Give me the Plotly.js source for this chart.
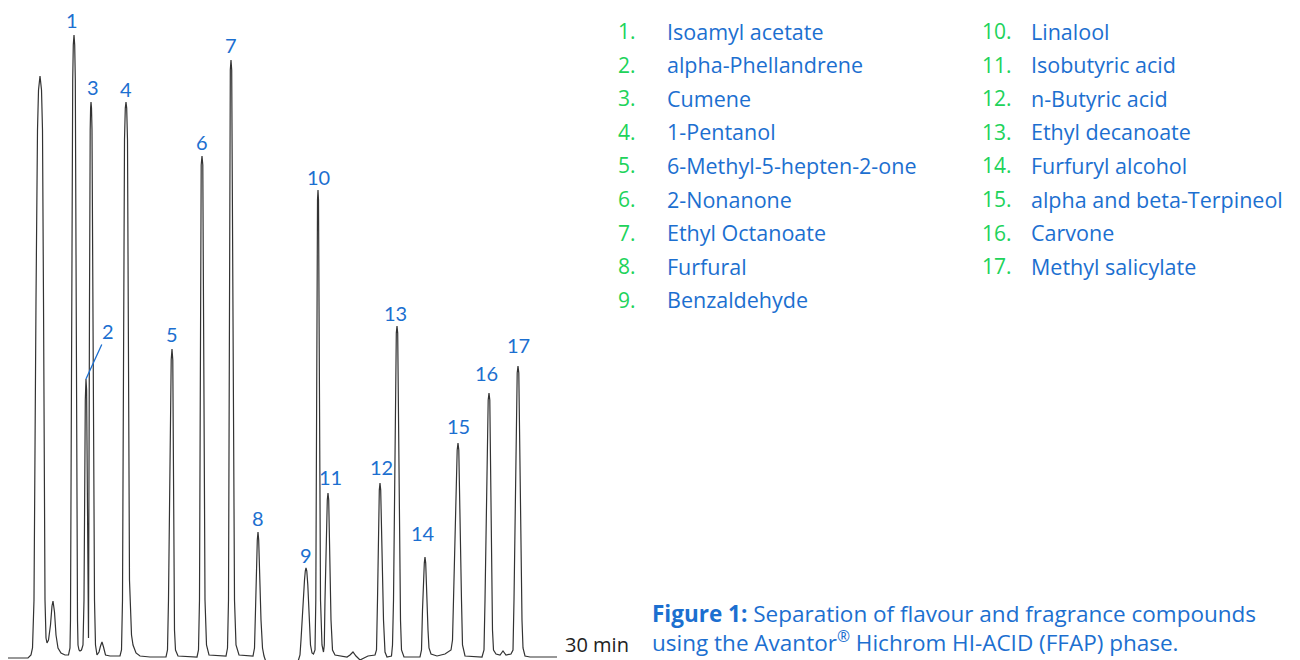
<!DOCTYPE html>
<html>
<head>
<meta charset="utf-8">
<script src="https://cdn.plot.ly/plotly-3.0.1.min.js"></script>
<style>html,body{margin:0;padding:0;background:#fff;}#chart{width:1300px;height:660px;}</style>
</head>
<body>
<div id="chart"></div>
<script>
// ---- Data ----
const traceTime = [0,1.093,1.257,1.339,1.421,1.530,1.612,1.667,1.749,1.831,1.885,1.940,2.022,2.077,2.131,2.213,2.322,2.404,2.459,2.541,2.623,2.732,2.896,3.115,3.306,3.388,3.415,3.536,3.568,3.607,3.645,3.678,3.798,3.825,3.880,3.934,4.016,4.098,4.153,4.224,4.262,4.295,4.399,4.454,4.492,4.514,4.536,4.563,4.590,4.727,4.781,4.863,4.973,5.055,5.137,5.219,5.328,5.574,6.120,6.202,6.257,6.366,6.410,6.448,6.486,6.530,6.639,6.749,6.831,6.995,7.213,7.760,8.634,8.716,8.770,8.918,8.962,9.005,9.098,9.153,9.290,10.328,10.410,10.464,10.557,10.601,10.645,10.765,10.847,10.984,11.913,11.995,12.049,12.148,12.186,12.224,12.377,12.459,12.623,13.388,13.470,13.525,13.623,13.661,13.699,13.825,13.907,13.989,14.098,14.317,15.410,15.738,15.874,15.956,16.011,16.202,16.246,16.284,16.328,16.383,16.530,16.612,16.694,16.776,16.820,16.913,16.940,16.967,17.077,17.158,17.240,17.284,17.322,17.448,17.486,17.525,17.650,17.732,17.869,18.525,18.689,18.852,19.016,19.235,19.454,19.672,20.055,20.137,20.191,20.290,20.328,20.366,20.519,20.601,20.710,20.956,21.011,21.066,21.219,21.257,21.295,21.448,21.503,21.639,22.514,22.596,22.650,22.749,22.787,22.825,22.951,23.005,23.115,23.443,23.880,24.208,24.290,24.344,24.546,24.590,24.634,24.781,24.836,24.973,25.902,26.011,26.066,26.240,26.284,26.328,26.475,26.530,26.667,26.885,27.049,27.213,27.486,27.596,27.650,27.825,27.869,27.913,28.087,28.142,28.251,28.525,30.000];
const traceSignal = [0,0,3,10,58,358,528,568,582,568,528,358,58,20,15,18,33,52,57,46,23,10,5,3,3,10,38,578,613,623,613,578,38,13,8,7,8,13,58,258,279,268,20,358,528,550,556,550,528,58,13,3,6,12,16,11,3,2,2,8,58,518,550,556,550,518,78,23,13,5,2,1,1,8,58,298,309,298,28,8,2,1,8,58,493,502,493,58,13,3,2,10,58,588,598,588,58,13,3,2,10,48,118,126,118,38,10,2,-4,-22,-32,-17,-2,3,18,78,87,90,87,73,13,5,4,8,58,458,468,458,58,13,6,13,58,158,165,158,38,8,3,1,3,6,2,-2,0,2,3,8,58,168,175,168,38,6,1,2,13,58,325,332,325,38,8,1,1,8,48,95,101,95,28,10,4,2,4,8,18,58,208,215,208,58,13,2,1,8,58,258,265,258,28,8,4,3,7,3,4,8,58,285,292,285,38,10,2,1,1];

const peakNumbers = [1,2,3,4,5,6,7,8,9,10,11,12,13,14,15,16,17];
const peakTimes   = [3.61,4.26,4.54,6.45,8.96,10.60,12.19,13.66,16.28,16.94,17.49,20.33,21.26,22.79,24.59,26.28,27.87];
const peakHeights = [623,279,556,556,309,502,598,126,90,468,165,175,332,101,215,265,292];

const compoundNames = [
  "Isoamyl acetate","alpha-Phellandrene","Cumene","1-Pentanol","6-Methyl-5-hepten-2-one",
  "2-Nonanone","Ethyl Octanoate","Furfural","Benzaldehyde","Linalool","Isobutyric acid",
  "n-Butyric acid","Ethyl decanoate","Furfuryl alcohol","alpha and beta-Terpineol","Carvone",
  "Methyl salicylate"
];

const runEndLabel = "30 min";
const captionBold = "Figure 1:";
const captionLine1 = " Separation of flavour and fragrance compounds";
const captionLine2 = "using the Avantor<sup>\u00AE</sup> Hichrom HI-ACID (FFAP) phase.";

// ---- Styling / layout config ----
const BLUE = "#1c6fd0";
const GREEN = "#20d35a";
const FONT = 'Lato, "Open Sans", sans-serif';
const FONT2 = '"Open Sans", Lato, sans-serif';
const W = 1300, H = 660;
const M = {l: 8, r: 743, t: 5, b: 0};
const plotW = W - M.l - M.r, plotH = H - M.t - M.b;
const px = x => (x - M.l) / plotW;
const py = y => (H - M.b - y) / plotH;

// label offsets in pixels [dx, dy above apex]
const labelOffsets = [[-2,15],[0,0],[2,15],[0,13],[0,15],[0,14],[0,15],[0,14],[0,13],[0,13],[2,16],[1,16],[-2,13],[-2,24],[0,17],[-2,20],[0,21]];

const annotations = [];
peakNumbers.forEach((n, i) => {
  if (n === 2) {
    annotations.push({
      x: peakTimes[i], y: peakHeights[i], xref: "x", yref: "y",
      text: String(n), showarrow: true, arrowhead: 0, arrowwidth: 1.3, arrowcolor: BLUE,
      ax: 22, ay: -48, standoff: 0, startstandoff: 0,
      font: {family: FONT, size: 20, color: BLUE}
    });
  } else {
    annotations.push({
      x: peakTimes[i], y: peakHeights[i], xref: "x", yref: "y",
      text: String(n), showarrow: false, xanchor: "center", yanchor: "middle",
      xshift: labelOffsets[i][0], yshift: labelOffsets[i][1],
      font: {family: FONT, size: 20, color: BLUE}
    });
  }
});

// legend list
compoundNames.forEach((name, i) => {
  const col = i < 9 ? 0 : 1;
  const row = i < 9 ? i : i - 9;
  const yPix = 31 + row * 33.6;
  const numX = col === 0 ? 616 : 980;
  const nameX = col === 0 ? 665 : 1029;
  annotations.push({
    x: px(numX), y: py(yPix), xref: "paper", yref: "paper", showarrow: false,
    xanchor: "left", yanchor: "middle", text: (i + 1) + ".",
    font: {family: FONT2, size: 21, color: GREEN}
  });
  annotations.push({
    x: px(nameX), y: py(yPix), xref: "paper", yref: "paper", showarrow: false,
    xanchor: "left", yanchor: "middle", text: name,
    font: {family: FONT2, size: 21.5, color: BLUE}
  });
});

annotations.push({
  x: px(563), y: py(660), xref: "paper", yref: "paper", showarrow: false,
  xanchor: "left", yanchor: "bottom", text: runEndLabel,
  font: {family: FONT2, size: 20, color: "#222"}
});
annotations.push({
  x: px(650), y: py(660), xref: "paper", yref: "paper", showarrow: false,
  xanchor: "left", yanchor: "bottom", align: "left",
  text: "<b>" + captionBold + "</b>" + captionLine1 + "<br>" + captionLine2,
  font: {family: FONT2, size: 22.5, color: BLUE}
});

const trace = {
  x: traceTime, y: traceSignal, type: "scatter", mode: "lines",
  line: {color: "#333333", width: 1.2, simplify: false},
  hoverinfo: "skip"
};

const layout = {
  width: W, height: H,
  margin: M,
  paper_bgcolor: "#fff", plot_bgcolor: "#fff",
  showlegend: false,
  xaxis: {range: [0, 30], visible: false, fixedrange: true},
  yaxis: {range: [-2, plotH - 2], visible: false, fixedrange: true},
  annotations: annotations
};

Plotly.newPlot("chart", [trace], layout, {displayModeBar: false, staticPlot: true});
</script>
</body>
</html>
